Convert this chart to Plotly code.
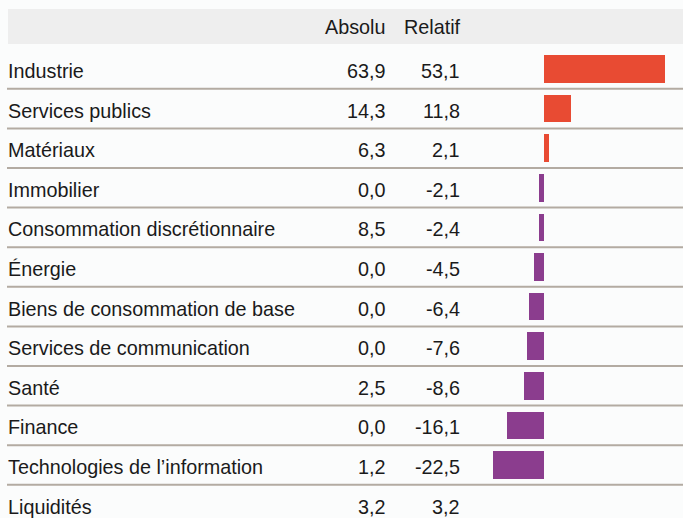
import plotly.graph_objects as go

labels = ["Industrie", "Services publics", "Matériaux", "Immobilier",
          "Consommation discrétionnaire", "Énergie", "Biens de consommation de base",
          "Services de communication", "Santé", "Finance",
          "Technologies de l’information", "Liquidités"]
absolu = [63.9, 14.3, 6.3, 0.0, 8.5, 0.0, 0.0, 0.0, 2.5, 0.0, 1.2, 3.2]
relatif = [53.1, 11.8, 2.1, -2.1, -2.4, -4.5, -6.4, -7.6, -8.6, -16.1, -22.5, 3.2]
show_bar = [True] * 11 + [False]
headers = ["Absolu", "Relatif"]

RED = "#E84B33"
PURPLE = "#8B3D8E"
FONT = "Liberation Sans, Arial, sans-serif"
FS = 19.8
TXT = "#1a1a1a"

def fmt(v):
    return f"{v:.1f}".replace(".", ",")

bar_x = [v if s else None for v, s in zip(relatif, show_bar)]
bar_colors = [RED if v >= 0 else PURPLE for v in relatif]

W, H = 683, 518
ppu = 2.27          # pixels per unit on bar axis
zero_px = 544
row0_px, pitch = 69, 39.6

fig = go.Figure()
fig.add_trace(go.Bar(y=labels, x=bar_x, orientation="h", width=0.7,
                     marker=dict(color=bar_colors, line=dict(width=0)),
                     hoverinfo="skip", showlegend=False))
# invisible trace carrying the text axis
fig.add_trace(go.Scatter(x=[0, W], y=[labels[0], labels[-1]], mode="markers",
                         marker=dict(opacity=0), xaxis="x2",
                         hoverinfo="skip", showlegend=False))

def ypx(p):
    return (p - row0_px) / pitch

shapes = [dict(type="rect", xref="paper", yref="y", x0=8 / W, x1=1,
               y0=ypx(9), y1=ypx(44), fillcolor="#eeeeee", line=dict(width=0),
               layer="below")]
for i in range(len(labels) - 1):
    shapes.append(dict(type="line", xref="paper", yref="y", x0=7 / W, x1=1,
                       y0=i + 0.5, y1=i + 0.5, line=dict(color="#b3aba2", width=2),
                       layer="below"))

font = dict(family=FONT, size=FS, color=TXT)
common = dict(xref="x2", yref="y", yanchor="middle", showarrow=False,
              borderpad=0, borderwidth=0, font=font)
annotations = []
for txt, xr in zip(headers, [385, 461]):
    annotations.append(dict(text=txt, x=xr, y=ypx(25.5), xanchor="right",
                            yshift=-1, **common))
for lab, a, r in zip(labels, absolu, relatif):
    annotations.append(dict(text=lab, x=8, y=lab, xanchor="left", yshift=-2, **common))
    annotations.append(dict(text=fmt(a), x=386, y=lab, xanchor="right", yshift=-2, **common))
    annotations.append(dict(text=fmt(r), x=460, y=lab, xanchor="right", yshift=-2, **common))

fig.update_layout(
    width=W, height=H, margin=dict(l=0, r=0, t=0, b=0),
    paper_bgcolor="#fbfcfc", plot_bgcolor="rgba(0,0,0,0)",
    xaxis=dict(range=[-zero_px / ppu, (W - zero_px) / ppu], visible=False, fixedrange=True),
    xaxis2=dict(range=[0, W], overlaying="x", visible=False, fixedrange=True),
    yaxis=dict(type="category", categoryorder="array", categoryarray=labels,
               range=[ypx(H), ypx(0)], visible=False, fixedrange=True),
    shapes=shapes, annotations=annotations, bargap=0,
)

fig.write_html("out.html", config={"displayModeBar": False},
               post_script="document.body.style.margin='0';document.body.style.background='#fbfcfc';")
